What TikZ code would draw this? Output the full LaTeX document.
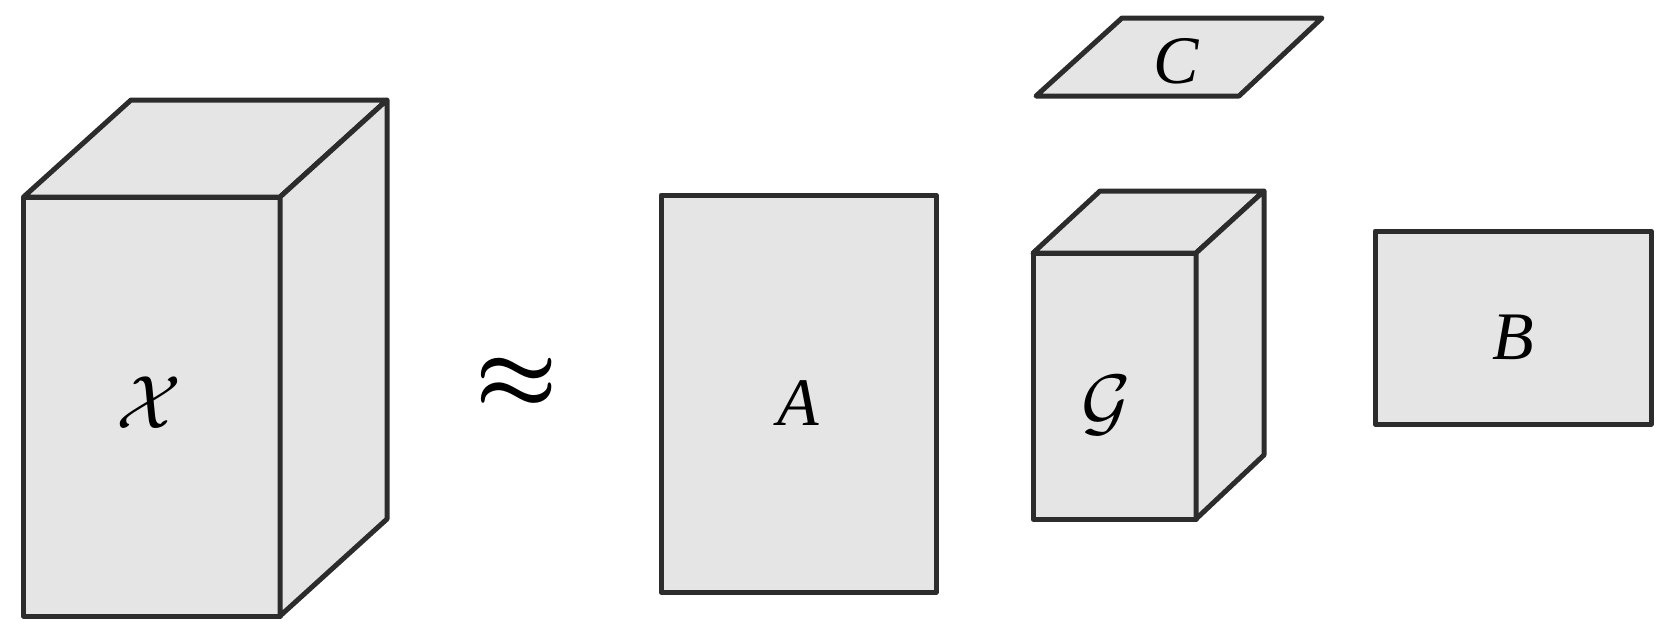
\documentclass[tikz,border=0pt]{standalone}
\usepackage{amsmath}
\usepackage{fontspec}
\newfontfamily\tmsfont{Liberation Serif}
\definecolor{facefill}{HTML}{E5E5E5}
\definecolor{edgecol}{HTML}{2C2C2C}
\tikzset{
  face/.style={fill=facefill, draw=edgecol, line width=2.5pt, line join=round},
  lbl/.style={font=\fontsize{34}{34}\selectfont\tmsfont\itshape, inner sep=0pt},
  cal/.style={font=\Huge, scale=1.52, inner sep=0pt}
}
\begin{document}
\begin{tikzpicture}[x=0.5pt,y=-0.5pt]
\useasboundingbox (0,0) rectangle (1672,639);
% X cube
\draw[face] (23.5,197) rectangle (280,616);
\draw[face] (23.5,197) -- (131,100) -- (387,100) -- (280,197) -- cycle;
\draw[face] (280,197) -- (387,100) -- (387,519) -- (280,616) -- cycle;
\node[cal] (X) at (149,403) {$\mathcal{X}$};
% approx
\node[font=\Huge, scale=1.85, inner sep=0pt] (approx) at (517,383) {$\boldsymbol{\approx}$};
% A
\draw[face] (661,195) rectangle (936,592);
\node[lbl] (A) at (798,403) {A};
% C
\draw[face] (1036,96) -- (1239,96) -- (1322,18) -- (1122,18) -- cycle;
\node[lbl] (C) at (1176,61) {C};
% G cube
\draw[face] (1033,253) rectangle (1196,519);
\draw[face] (1033,253) -- (1100,191) -- (1264,191) -- (1196,253) -- cycle;
\draw[face] (1196,253) -- (1264,191) -- (1264,455) -- (1196,519) -- cycle;
\node[cal] (G) at (1106,405) {$\mathcal{G}$};
% B
\draw[face] (1375,231) rectangle (1651,424);
\node[lbl] (B) at (1513,337) {B};
\end{tikzpicture}
\end{document}
